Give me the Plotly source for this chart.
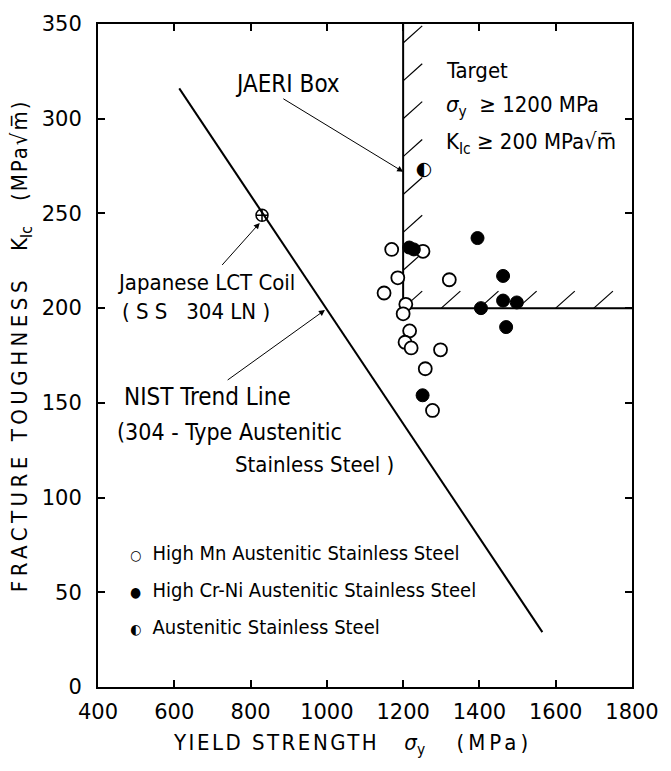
import plotly.graph_objects as go

# ---- data ----
high_mn_x = [1170, 1252, 1186, 1321, 1150, 1207, 1200, 1217, 1205, 1221, 1298, 1258, 1277]
high_mn_y = [231, 230, 216, 215, 208, 202, 197, 188, 182, 179, 178, 168, 146]

high_crni_x = [1216, 1228, 1395, 1462, 1404, 1462, 1498, 1470, 1251]
high_crni_y = [232, 231, 237, 217, 200, 204, 203, 190, 154]

aust_x = [1255]
aust_y = [273]

lct_x = [830]
lct_y = [249]

nist_x = [613, 1565]
nist_y = [316, 29]

box_x = [1200, 1200, 1800]
box_y = [350, 200, 200]
hatch_vert_y = [200, 220, 240, 260, 280, 300, 320, 340]
hatch_horiz_x = [1300, 1400, 1500, 1600, 1700]

x_ticks = [400, 600, 800, 1000, 1200, 1400, 1600, 1800]
y_ticks = [0, 50, 100, 150, 200, 250, 300, 350]

NARROW = "DejaVu Sans Condensed, Liberation Sans Narrow, sans-serif"
WIDE = "DejaVu Sans, Verdana, sans-serif"

fig = go.Figure()

# hatch segments along the target box edges
hx, hy = [], []
HDX, HDY = 50, 9
for yy in hatch_vert_y:
    hx += [box_x[0], box_x[0] + HDX, None]
    hy += [yy, yy + HDY, None]
for xx in hatch_horiz_x:
    hx += [xx, xx + HDX, None]
    hy += [box_y[1], box_y[1] + HDY, None]
fig.add_trace(go.Scatter(x=hx, y=hy, mode="lines", line=dict(color="black", width=1.2),
                         hoverinfo="skip", showlegend=False))

fig.add_trace(go.Scatter(x=box_x, y=box_y, mode="lines", line=dict(color="black", width=2),
                         showlegend=False))

fig.add_trace(go.Scatter(x=nist_x, y=nist_y, mode="lines", line=dict(color="black", width=2),
                         showlegend=False))

fig.add_trace(go.Scatter(x=high_mn_x, y=high_mn_y, mode="markers",
                         marker=dict(symbol="circle", size=13, color="white",
                                     line=dict(color="black", width=1.8)),
                         showlegend=False))
fig.add_trace(go.Scatter(x=high_crni_x, y=high_crni_y, mode="markers",
                         marker=dict(symbol="circle", size=13, color="black",
                                     line=dict(color="black", width=1)),
                         showlegend=False))
fig.add_trace(go.Scatter(x=aust_x, y=aust_y, mode="text", text=["◐"],
                         textfont=dict(family="DejaVu Sans", size=19, color="black"),
                         textposition="middle center", showlegend=False))
fig.add_trace(go.Scatter(x=lct_x, y=lct_y, mode="markers",
                         marker=dict(symbol="circle-cross-open", size=12, color="black",
                                     line=dict(color="black", width=1.5)),
                         showlegend=False))

def ann(x, y, text, size=22, xanchor="left", **kw):
    fig.add_annotation(x=x, y=y, xref="x", yref="y", text=text, showarrow=False,
                       xanchor=xanchor, yanchor="middle",
                       font=dict(family=NARROW, size=size, color="black"), **kw)

def arrow(x, y, ax, ay):
    fig.add_annotation(x=x, y=y, ax=ax, ay=ay, xref="x", yref="y", axref="x", ayref="y",
                       text="", showarrow=True, arrowhead=2, arrowsize=1.2,
                       arrowwidth=1, arrowcolor="black")

ann(897, 318.5, "JAERI Box", size=24, xanchor="center")
arrow(1200, 272, 882, 311)

ann(1307, 325.5, "Target")
ann(1307, 306.5, "<i>σ</i><sub>y</sub>  ≥ 1200 MPa")
ann(1307, 287, "K<sub>Ic</sub> ≥ 200 MPa√m̅")

ann(444, 213.5, "Japanese LCT Coil")
ann(458, 198, "( S S   304 LN )")
arrow(824, 245, 722, 222)

ann(464, 153, "NIST Trend Line", size=24)
ann(444, 134.5, "(304 - Type Austenitic", size=23)
ann(753, 117.5, "Stainless Steel )")
arrow(995, 199, 736, 161.5)

G = "<span style='font-size:14px'>%s</span>  "
ann(478, 70.5, G % "○" + "High Mn Austenitic Stainless Steel", size=20)
ann(478, 51, G % "●" + "High Cr-Ni Austenitic Stainless Steel", size=20)
ann(478, 31.5, G % "◐" + "Austenitic Stainless Steel", size=20)

# axis titles
fig.add_annotation(x=0.477, y=-0.087, xref="paper", yref="paper", showarrow=False,
                   text="<span style='letter-spacing:2.5px'>YIELD STRENGTH</span>    "
                        "<i>σ</i><sub>y</sub>     "
                        "<span style='letter-spacing:4px'>(MPa)</span>",
                   font=dict(family=NARROW, size=22, color="black"),
                   xanchor="center", yanchor="middle")
fig.add_annotation(x=-0.143, y=0.515, xref="paper", yref="paper", showarrow=False,
                   text="<span style='letter-spacing:4.5px'>FRACTURE TOUGHNESS</span>    "
                        "K<sub>Ic</sub>    "
                        "<span style='letter-spacing:2px'>(MPa√m̅)</span>",
                   textangle=-90,
                   font=dict(family=NARROW, size=22, color="black"),
                   xanchor="center", yanchor="middle")

axis_common = dict(showgrid=False, zeroline=False, showline=True, linecolor="black",
                   linewidth=2, mirror="ticks", ticks="inside", ticklen=7,
                   tickwidth=1.5, tickcolor="black",
                   tickfont=dict(family=WIDE, size=21, color="black"))

fig.update_xaxes(range=[400, 1800], tickvals=x_ticks, ticktext=[str(v) for v in x_ticks],
                 ticklabelstandoff=5, **axis_common)
fig.update_yaxes(range=[0, 350], tickvals=y_ticks, ticktext=[str(v) for v in y_ticks],
                 ticklabelstandoff=10, **axis_common)

fig.update_layout(width=671, height=771, margin=dict(l=98, r=30, t=18, b=84),
                  plot_bgcolor="white", paper_bgcolor="white", showlegend=False)

fig.write_html("out.html")
